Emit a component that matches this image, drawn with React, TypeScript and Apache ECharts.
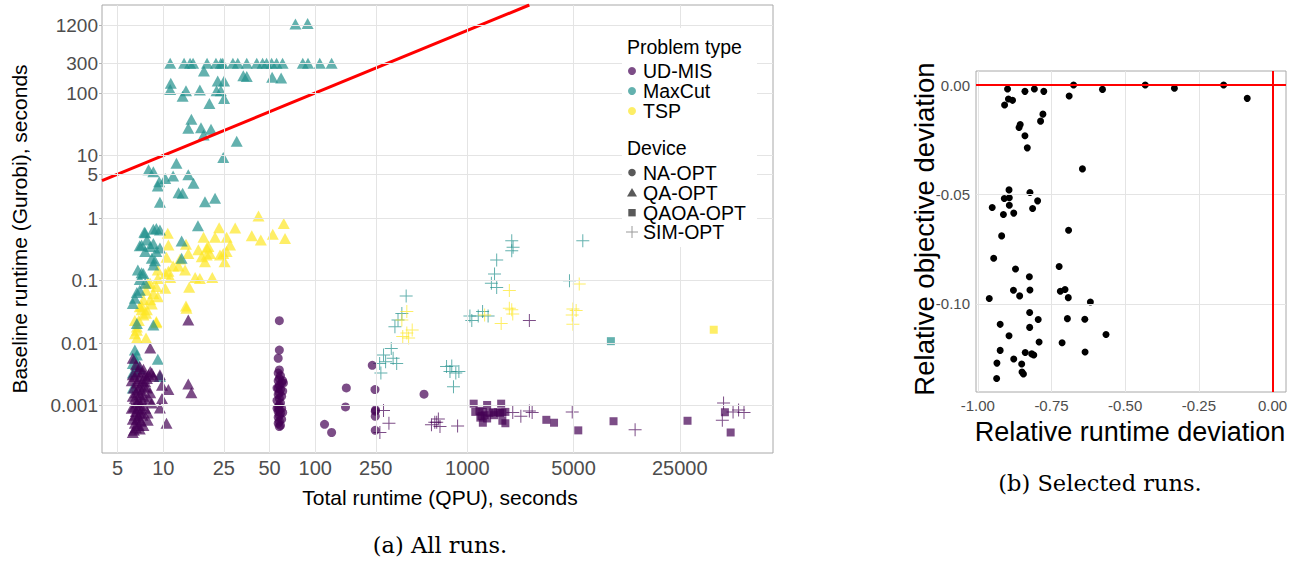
import React, { useEffect, useRef } from 'react';
import * as echarts from 'echarts';

// ---------- tick definitions (panel a, log scales) ----------
const xTicks = [5, 10, 25, 50, 100, 250, 1000, 5000, 25000];
const xTickLabels = ['5', '10', '25', '50', '100', '250', '1000', '5000', '25000'];
const yTicks = [0.001, 0.01, 0.1, 1, 5, 10, 100, 300, 1200];
const yTickLabels = ['0.001', '0.01', '0.1', '1', '5', '10', '100', '300', '1200'];

// ---------- tick definitions (panel b) ----------
const bxTicks = [-1, -0.75, -0.5, -0.25, 0];
const byTicks = [-0.1, -0.05, 0];

// ---------- data, panel a: [total runtime (QPU) s, baseline runtime (Gurobi) s] ----------
const maxcutQA: number[][] = [
  [74, 1270], [89, 1300],
  [11.1, 300], [13.7, 300], [15.0, 300], [15.7, 300], [19.4, 300], [22.2, 300], [23.9, 300], [24.6, 300],
  [28.7, 300], [30.9, 300], [35.4, 300], [41.2, 300], [45, 300], [47.8, 300], [51.6, 300], [55.6, 300],
  [60.9, 300], [82.7, 300], [89.5, 300], [107, 300], [128, 300],
  [18.5, 225], [33.6, 188], [35.4, 183], [52, 178], [59.6, 173], [11.2, 143], [11.1, 114], [14.1, 109],
  [13.4, 89], [17.4, 112], [22.8, 155], [25.1, 155], [22.4, 109], [23.9, 109], [25.1, 82], [20.1, 68],
  [15.3, 38], [14.6, 27.3], [17.7, 27.9], [20.6, 26.3], [18.4, 21.3], [30.4, 16.9], [24.8, 9.3],
  [8.0, 5.9], [8.6, 5.5], [12.2, 7.5], [11.6, 4.7], [14.6, 4.9], [10.3, 4.3], [9.4, 3.8], [9.2, 3.25],
  [15.8, 3.6], [12.6, 2.54], [13.4, 2.48], [18.8, 1.82], [21.9, 2.07], [9.5, 1.78],
  [16.9, 0.75], [7.5, 0.59], [8.6, 0.66], [9.0, 0.68], [9.5, 0.64], [7.0, 0.36], [7.8, 0.445], [8.2, 0.35],
  [9.5, 0.33], [13.2, 0.43], [7.6, 0.58], [8.6, 0.39], [7.2, 0.37], [7.6, 0.29], [8.4, 0.226], [8.8, 0.207],
  [8.6, 0.177], [6.8, 0.147], [7.2, 0.133], [7.0, 0.104], [7.6, 0.09], [6.7, 0.064], [6.5, 0.052],
  [6.3, 0.043], [13.2, 0.226], [7.4, 0.13], [7.0, 0.07], [9.0, 0.29],
  [6.7, 0.0206], [8.6, 0.0194], [6.5, 0.0077], [6.7, 0.0064], [9.2, 0.0055], [6.3, 0.0047], [7.0, 0.0039],
  [6.3, 0.0033], [6.5, 0.0057], [6.7, 0.0044], [6.5, 0.0035], [6.3, 0.0019], [9.5, 0.0029],
];

const tspQA: number[][] = [
  [42.3, 1.08], [62, 0.82], [23.3, 0.7], [29.7, 0.69], [10.7, 0.57], [18.4, 0.49], [21.9, 0.49], [26.1, 0.49],
  [38.2, 0.52], [43.8, 0.445], [52.5, 0.55], [63.2, 0.47], [10.8, 0.37], [14.1, 0.38], [17, 0.31], [19.8, 0.35],
  [27.5, 0.37], [24.8, 0.27], [19.3, 0.256],
  [19.3, 0.33], [20.3, 0.27], [17.9, 0.24], [23.6, 0.256], [26.1, 0.29], [25.3, 0.2], [18.8, 0.2], [14.6, 0.27],
  [12.9, 0.22], [10.5, 0.235], [12.6, 0.17], [13.9, 0.147], [9.2, 0.147], [10.8, 0.14], [11.1, 0.112],
  [16.2, 0.112], [17.4, 0.108], [21, 0.112], [14.8, 0.078], [9.2, 0.108], [8.2, 0.09], [9.0, 0.08],
  [10.3, 0.075], [7.7, 0.07], [8.6, 0.062], [9.2, 0.055], [7.4, 0.049], [8.2, 0.049], [7.2, 0.039],
  [8.4, 0.042], [14.1, 0.039], [14.2, 0.036], [7.0, 0.038], [7.8, 0.034], [7.4, 0.028], [6.9, 0.023],
  [6.7, 0.018], [6.5, 0.014], [6.7, 0.012], [9.0, 0.022], [7.9, 0.09], [10.3, 0.13], [11.6, 0.17],
  [7.2, 0.034], [7.7, 0.03], [6.5, 0.023], [6.7, 0.016], [7.7, 0.012], [9.0, 0.021],
];

const udmisQA: number[][] = [
  [6.6, 0.0045], [7.0, 0.0042], [7.4, 0.0038], [6.8, 0.0035], [7.2, 0.0033], [7.6, 0.003], [6.5, 0.0029],
  [6.9, 0.0027], [7.3, 0.0025], [7.8, 0.0027], [6.7, 0.0023], [7.1, 0.0021], [7.5, 0.002], [6.4, 0.0019],
  [6.8, 0.0018], [7.2, 0.0017], [6.6, 0.0016], [7.0, 0.0015], [7.4, 0.0014], [6.5, 0.0013], [6.9, 0.0012],
  [7.3, 0.0012], [6.7, 0.0011], [7.1, 0.001], [6.4, 0.00095], [6.8, 0.0009], [7.2, 0.00085], [6.6, 0.0008],
  [7.0, 0.00075], [6.5, 0.0007], [6.9, 0.00065], [7.3, 0.0007], [6.7, 0.0006], [7.1, 0.00056], [6.5, 0.00052],
  [6.9, 0.00048], [6.6, 0.00044], [7.0, 0.00042], [6.4, 0.0004], [7.6, 0.0024], [8.0, 0.0031], [8.6, 0.0029],
  [7.8, 0.0019], [8.0, 0.0013], [7.6, 0.0009], [7.9, 0.00058], [7.4, 0.00048], [6.3, 0.0031], [6.2, 0.0025],
  [6.3, 0.0014], [6.2, 0.0009], [6.3, 0.0006],
  [14.6, 0.0233], [8.2, 0.0083], [6.3, 0.0057], [14.6, 0.0022], [15.3, 0.0016], [10.5, 0.00052], [9.5, 0.0031],
  [10.8, 0.0018], [8.4, 0.0033], [9.8, 0.0013], [8.4, 0.0011], [9.5, 0.00091], [9.8, 0.0021], [8.2, 0.0016],
  [7.9, 0.00076], [6.3, 0.00037], [8.2, 0.0035],
];

const udmisNA: number[][] = [
  [58, 0.0228], [58, 0.0077], [57, 0.0057], [58, 0.0037], [57, 0.0033], [59, 0.003], [58, 0.0027], [57, 0.0025],
  [60, 0.0023], [58, 0.0021], [57, 0.0019], [59, 0.0018], [58, 0.0016], [57, 0.0015], [60, 0.0014], [58, 0.0013],
  [56, 0.0012], [59, 0.0011], [58, 0.001], [57, 0.00095], [60, 0.0009], [58, 0.00085], [57, 0.0008], [59, 0.00075],
  [58, 0.0007], [57, 0.00065], [60, 0.0006], [58, 0.00056], [57, 0.00052], [59, 0.00048], [58, 0.00046],
  [56, 0.0019], [61, 0.0025], [61, 0.0017], [56, 0.0009], [61.7, 0.0023], [61, 0.00077],
  [115, 0.0005], [128, 0.00037], [160, 0.00191], [158, 0.00095], [237, 0.0044], [247, 0.0018], [248, 0.00081],
  [249, 0.00085], [248, 0.00067], [248, 0.0004], [519, 0.00152],
];

const udmisQAOA: number[][] = [
  [1101, 0.00107], [1128, 0.00079], [1202, 0.00082], [1265, 0.00079], [1218, 0.00064], [1265, 0.00053],
  [1350, 0.00102], [1400, 0.00076], [1480, 0.00078], [1585, 0.00078], [1670, 0.00107], [1640, 0.00076],
  [1700, 0.00057], [1780, 0.00052], [1780, 0.00079], [1240, 0.00068], [1300, 0.0007], [1500, 0.0007],
  [1700, 0.00077], [1350, 0.00062], [3310, 0.00059], [3720, 0.00053], [5370, 0.0004], [9160, 0.00056],
  [28100, 0.00057], [49500, 0.00078], [54000, 0.00037],
];
const maxcutQAOA: number[][] = [[8800, 0.0107]];
const tspQAOA: number[][] = [[41800, 0.0163]];

const udmisSIM: number[][] = [
  [281, 0.00083], [305, 0.00052], [266, 0.00037], [629, 0.00054], [581, 0.00049], [661, 0.00046], [611, 0.00054],
  [645, 0.00061], [863, 0.00047], [1990, 0.00077], [2250, 0.00067], [2560, 0.00082], [2670, 0.00077],
  [4900, 0.00079], [2560, 0.0229], [12700, 0.00041], [48500, 0.0011], [47600, 0.00058], [56000, 0.00079],
  [60900, 0.00085], [66100, 0.00077],
];
const maxcutSIM: number[][] = [
  [396, 0.0564], [371, 0.0296], [350, 0.0233], [334, 0.0182], [316, 0.0082], [281, 0.0064], [265, 0.0047],
  [290, 0.005], [270, 0.0033], [325, 0.0057], [343, 0.0047], [730, 0.0042], [1960, 0.433], [2000, 0.34],
  [1960, 0.3], [1560, 0.213], [1510, 0.127], [1440, 0.09], [1560, 0.077], [4700, 0.099], [5750, 0.433],
  [1040, 0.027], [1070, 0.023], [1260, 0.032], [1180, 0.027], [1370, 0.027], [811, 0.002], [790, 0.0043],
  [840, 0.0033], [769, 0.0035], [880, 0.0035],
];
const tspSIM: number[][] = [
  [400, 0.0145], [434, 0.0161], [376, 0.0127], [411, 0.012], [371, 0.0233], [400, 0.0318], [1890, 0.069],
  [1890, 0.036], [1990, 0.029], [1670, 0.0205], [1300, 0.028], [5450, 0.088], [4950, 0.035], [5200, 0.033],
  [4900, 0.028], [4950, 0.02], [1960, 0.034],
];

// ---------- data, panel b: [relative runtime deviation, relative objective deviation] ----------
const selectedRuns: number[][] = [
  [-0.899, -0.0018], [-0.896, -0.0064], [-0.882, -0.007], [-0.909, -0.0091], [-0.84, -0.0029], [-0.808, -0.0018],
  [-0.776, -0.0029], [-0.675, 0.0], [-0.69, -0.005], [-0.577, -0.002], [-0.432, 0.0], [-0.333, -0.0015],
  [-0.166, 0.0], [-0.086, -0.0061], [-0.779, -0.0133], [-0.787, -0.0165], [-0.856, -0.018], [-0.86, -0.0194],
  [-0.84, -0.0232], [-0.832, -0.0287], [-0.645, -0.0383], [-0.894, -0.0479], [-0.823, -0.0491], [-0.91, -0.0518],
  [-0.893, -0.0515], [-0.797, -0.0529], [-0.893, -0.0549], [-0.951, -0.0559], [-0.814, -0.0564], [-0.913, -0.0591],
  [-0.878, -0.0585], [-0.692, -0.0663], [-0.919, -0.0689], [-0.946, -0.0791], [-0.872, -0.084], [-0.724, -0.0829],
  [-0.825, -0.0876], [-0.879, -0.0937], [-0.823, -0.0936], [-0.72, -0.0942], [-0.704, -0.0934], [-0.858, -0.0963],
  [-0.693, -0.0971], [-0.961, -0.0975], [-0.618, -0.0991], [-0.824, -0.1039], [-0.795, -0.1071], [-0.696, -0.1067],
  [-0.637, -0.107], [-0.924, -0.1093], [-0.824, -0.1107], [-0.894, -0.1145], [-0.565, -0.1139], [-0.792, -0.1174],
  [-0.714, -0.1177], [-0.924, -0.1212], [-0.839, -0.1222], [-0.817, -0.1228], [-0.81, -0.1233], [-0.636, -0.1219],
  [-0.935, -0.127], [-0.878, -0.1251], [-0.851, -0.1274], [-0.85, -0.1311], [-0.845, -0.132], [-0.936, -0.134],
];

// ---------- styling ----------
const C_UDMIS = 'rgba(68,1,84,0.7)';
const C_MAXCUT = 'rgba(33,144,140,0.7)';
const C_TSP = 'rgba(253,231,37,0.7)';
const FONT = 'Liberation Sans, Arial, sans-serif';
const CROSS = 'path://M6,0h1v6h6v1h-6v6h-1v-6h-6v-1h6z';
const LEG_FS = 19.5;

const XMIN = 0.5967, XMAX = 5.011, YMIN = -3.76, YMAX = 3.408;
const BXMIN = -1.006, BXMAX = 0.0455, BYMIN = -0.1402, BYMAX = 0.0064;

const L = (arr: number[][]) => arr.map(([x, y]) => [Math.log10(x), Math.log10(y)]);
const lookup = (ticks: number[], labels: string[]) => (v: number) => {
  const i = ticks.findIndex((t) => Math.abs(Math.log10(t) - v) < 1e-6);
  return i >= 0 ? labels[i] : '';
};

const scatter = (data: number[][], symbol: string, size: any, color: string) => ({
  type: 'scatter', xAxisIndex: 0, yAxisIndex: 0, data: L(data), symbol, symbolSize: size,
  itemStyle: { color, opacity: 1 }, z: 3, silent: true,
});

const legText = (text: string, x: number, y: number) => ({
  type: 'text', x, y, z: 50,
  style: { text, fontSize: LEG_FS, fontFamily: FONT, fill: '#000', align: 'left', verticalAlign: 'middle' },
});

export default function App() {
  const ref = useRef<HTMLDivElement>(null);
  useEffect(() => {
    if (!ref.current) return;
    const chart = echarts.init(ref.current, null, { renderer: 'svg' });
    const gridLine = { color: '#e4e4e4', width: 1, type: 'solid' };
    const axisTick = { show: true, length: 3, lineStyle: { color: '#b3b3b3' } };
    const option: any = {
      animation: false,
      backgroundColor: '#ffffff',
      grid: [
        { left: 102, top: 5, width: 671, height: 448, show: true, borderColor: '#a8a8a8', borderWidth: 1, backgroundColor: '#fff' },
        { left: 976, top: 71, width: 310, height: 321, show: true, borderColor: '#a8a8a8', borderWidth: 1, backgroundColor: '#fff' },
      ],
      xAxis: [
        {
          type: 'value', gridIndex: 0, min: XMIN, max: XMAX,
          axisLine: { show: false }, splitLine: { show: false },
          axisTick: { ...axisTick, customValues: xTicks.map((t) => Math.log10(t)) },
          axisLabel: { customValues: xTicks.map((t) => Math.log10(t)), formatter: lookup(xTicks, xTickLabels), color: '#4d4d4d', fontSize: 20, fontFamily: FONT, margin: 5 },
        },
        {
          type: 'value', gridIndex: 1, min: BXMIN, max: BXMAX,
          axisLine: { show: false }, splitLine: { show: false },
          axisTick: { ...axisTick, customValues: bxTicks },
          axisLabel: { customValues: bxTicks, formatter: (v: number) => v.toFixed(2), color: '#4d4d4d', fontSize: 15, fontFamily: FONT, margin: 6 },
        },
      ],
      yAxis: [
        {
          type: 'value', gridIndex: 0, min: YMIN, max: YMAX,
          axisLine: { show: false }, splitLine: { show: false },
          axisTick: { ...axisTick, customValues: yTicks.map((t) => Math.log10(t)) },
          axisLabel: { customValues: yTicks.map((t) => Math.log10(t)), formatter: lookup(yTicks, yTickLabels), color: '#4d4d4d', fontSize: 19, fontFamily: FONT, margin: 4, lineHeight: 17 },
        },
        {
          type: 'value', gridIndex: 1, min: BYMIN, max: BYMAX,
          axisLine: { show: false }, splitLine: { show: false },
          axisTick: { ...axisTick, customValues: byTicks },
          axisLabel: { customValues: byTicks, formatter: (v: number) => v.toFixed(2), color: '#4d4d4d', fontSize: 15, fontFamily: FONT, margin: 6 },
        },
      ],
      series: [
        {
          type: 'scatter', xAxisIndex: 0, yAxisIndex: 0, data: [[XMIN, YMIN]], symbolSize: 0, z: 1, silent: true,
          markLine: {
            silent: true, symbol: ['none', 'none'], label: { show: false }, lineStyle: gridLine, emphasis: { disabled: true },
            data: [...xTicks.map((t) => ({ xAxis: Math.log10(t) })), ...yTicks.map((t) => ({ yAxis: Math.log10(t) }))],
          },
        },
        {
          type: 'scatter', xAxisIndex: 1, yAxisIndex: 1, data: [[BXMIN, BYMIN]], symbolSize: 0, z: 1, silent: true,
          markLine: {
            silent: true, symbol: ['none', 'none'], label: { show: false }, lineStyle: gridLine, emphasis: { disabled: true },
            data: [...bxTicks.map((t) => ({ xAxis: t })), ...byTicks.map((t) => ({ yAxis: t }))],
          },
        },
        scatter(maxcutSIM, CROSS, 13, C_MAXCUT),
        scatter(tspSIM, CROSS, 13, C_TSP),
        scatter(udmisSIM, CROSS, 13, C_UDMIS),
        scatter(tspQA, 'triangle', [12, 11], C_TSP),
        scatter(maxcutQA, 'triangle', [12, 11], C_MAXCUT),
        scatter(udmisQA, 'triangle', [12, 11], C_UDMIS),
        scatter(udmisNA, 'circle', 9, C_UDMIS),
        scatter(udmisQAOA, 'rect', 8, C_UDMIS),
        scatter(maxcutQAOA, 'rect', 8, C_MAXCUT),
        scatter(tspQAOA, 'rect', 8, C_TSP),
        {
          type: 'line', xAxisIndex: 0, yAxisIndex: 0, data: [[XMIN, XMIN], [YMAX, YMAX]], symbol: 'none',
          lineStyle: { color: '#ff0000', width: 3 }, z: 4, silent: true,
        },
        {
          type: 'scatter', xAxisIndex: 1, yAxisIndex: 1, data: selectedRuns, symbol: 'circle', symbolSize: 7,
          itemStyle: { color: '#000000', opacity: 1 }, z: 4, silent: true,
          markLine: {
            silent: true, symbol: ['none', 'none'], label: { show: false }, emphasis: { disabled: true },
            lineStyle: { color: '#ff0000', width: 2, type: 'solid' },
            data: [{ xAxis: 0 }, { yAxis: 0 }],
          },
        },
      ],
      graphic: [
        { type: 'text', x: 440, y: 497, z: 50, style: { text: 'Total runtime (QPU), seconds', fontSize: 21, fontFamily: FONT, fill: '#000', align: 'center', verticalAlign: 'middle' } },
        { type: 'text', x: 19, y: 229, rotation: Math.PI / 2, z: 50, style: { text: 'Baseline runtime (Gurobi), seconds', fontSize: 21, fontFamily: FONT, fill: '#000', align: 'center', verticalAlign: 'middle' } },
        { type: 'text', x: 1130, y: 432, z: 50, style: { text: 'Relative runtime deviation', fontSize: 27, fontFamily: FONT, fill: '#000', align: 'center', verticalAlign: 'middle' } },
        { type: 'text', x: 924, y: 229, rotation: Math.PI / 2, z: 50, style: { text: 'Relative objective deviation', fontSize: 27.5, fontFamily: FONT, fill: '#000', align: 'center', verticalAlign: 'middle' } },
        { type: 'text', x: 440, y: 545, z: 50, style: { text: '(a) All runs.', fontSize: 22.5, fontFamily: 'DejaVu Serif, serif', fill: '#000', align: 'center', verticalAlign: 'middle' } },
        { type: 'text', x: 1100, y: 483, z: 50, style: { text: '(b) Selected runs.', fontSize: 22.5, fontFamily: 'DejaVu Serif, serif', fill: '#000', align: 'center', verticalAlign: 'middle' } },
        // legend box
        { type: 'rect', z: 40, shape: { x: 622, y: 28, width: 135, height: 219 }, style: { fill: '#ffffff' } },
        legText('Problem type', 627, 47),
        { type: 'circle', z: 50, shape: { cx: 632, cy: 71, r: 4 }, style: { fill: '#7c4d87' } },
        { type: 'circle', z: 50, shape: { cx: 632, cy: 91, r: 4 }, style: { fill: '#63b1ae' } },
        { type: 'circle', z: 50, shape: { cx: 632, cy: 111, r: 4 }, style: { fill: '#fdee66' } },
        legText('UD-MIS', 643, 71),
        legText('MaxCut', 643, 91),
        legText('TSP', 643, 111),
        legText('Device', 627, 148),
        { type: 'circle', z: 50, shape: { cx: 632, cy: 172.5, r: 3.8 }, style: { fill: '#595959' } },
        { type: 'polygon', z: 50, shape: { points: [[627, 196.5], [637, 196.5], [632, 188]] }, style: { fill: '#595959' } },
        { type: 'rect', z: 50, shape: { x: 628.3, y: 209, width: 7.4, height: 7.4 }, style: { fill: '#595959' } },
        { type: 'line', z: 50, shape: { x1: 626, y1: 232, x2: 638, y2: 232 }, style: { stroke: '#9a9a9a', lineWidth: 1 } },
        { type: 'line', z: 50, shape: { x1: 632, y1: 226, x2: 632, y2: 238 }, style: { stroke: '#9a9a9a', lineWidth: 1 } },
        legText('NA-OPT', 643, 172.5),
        legText('QA-OPT', 643, 192.5),
        legText('QAOA-OPT', 643, 212.5),
        legText('SIM-OPT', 643, 232),
      ],
    };
    chart.setOption(option);
    return () => chart.dispose();
  }, []);
  return <div ref={ref} style={{ position: 'fixed', left: 0, top: 0, width: 1311, height: 562 }} />;
}
